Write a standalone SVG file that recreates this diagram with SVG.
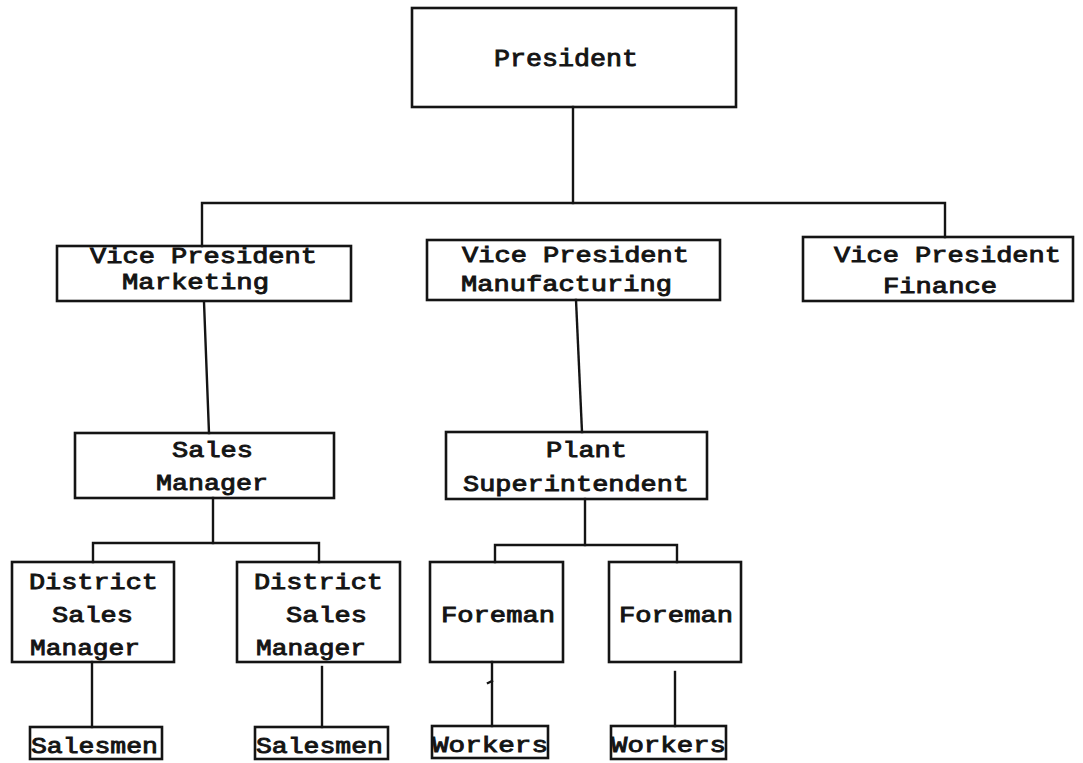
<svg xmlns="http://www.w3.org/2000/svg" width="1083" height="763" viewBox="0 0 1083 763">
  <style>
    .box { fill: none; stroke: #141414; stroke-width: 2.6; stroke-linejoin: miter; }
    .wire { fill: none; stroke: #141414; stroke-width: 2.4; stroke-linecap: square; }
    .lbl { font-family: "Liberation Mono", "DejaVu Sans Mono", monospace; font-size: 22px; fill: #141414; stroke: #141414; stroke-width: 0.9px; }
    .big { font-size: 24px; }
  </style>
  <rect width="1083" height="763" fill="#ffffff"/>

  <!-- reporting lines -->
  <g id="connectors">
    <path class="wire" d="M573,107 L573,203"/>
    <path class="wire" d="M202,246 L202,203 L945,203 L945,237"/>
    <path class="wire" d="M204,302 L209,433"/>
    <path class="wire" d="M576,300 L582,432"/>
    <path class="wire" d="M213,498 L213,543"/>
    <path class="wire" d="M93,562 L93,543 L319,543 L319,562"/>
    <path class="wire" d="M585,499 L585,545"/>
    <path class="wire" d="M495,562 L495,545 L677,545 L677,562"/>
    <path class="wire" d="M92,662 L92,727"/>
    <path class="wire" d="M322,667 L322,727"/>
    <path class="wire" d="M492,662 L492,726"/>
    <path class="wire" d="M488,683 L492,681"/>
    <path class="wire" d="M675,672 L675,726"/>
  </g>

  <g id="president">
    <rect class="box" x="412" y="8" width="324" height="99"/>
    <text class="lbl big" x="494" y="66" textLength="144" lengthAdjust="spacingAndGlyphs">President</text>
  </g>

  <g id="vp-marketing">
    <rect class="box" x="57" y="246" width="294" height="55"/>
    <text class="lbl" x="90" y="263" textLength="227" lengthAdjust="spacingAndGlyphs">Vice President</text>
    <text class="lbl" x="122" y="289" textLength="147" lengthAdjust="spacingAndGlyphs">Marketing</text>
  </g>

  <g id="vp-manufacturing">
    <rect class="box" x="427" y="240" width="293" height="60"/>
    <text class="lbl" x="462" y="262" textLength="227" lengthAdjust="spacingAndGlyphs">Vice President</text>
    <text class="lbl" x="461" y="291" textLength="211" lengthAdjust="spacingAndGlyphs">Manufacturing</text>
  </g>

  <g id="vp-finance">
    <rect class="box" x="803" y="237" width="270" height="64"/>
    <text class="lbl" x="834" y="262" textLength="227" lengthAdjust="spacingAndGlyphs">Vice President</text>
    <text class="lbl" x="883" y="293" textLength="114" lengthAdjust="spacingAndGlyphs">Finance</text>
  </g>

  <g id="sales-manager">
    <rect class="box" x="75" y="433" width="259" height="65"/>
    <text class="lbl" x="172" y="457" textLength="81" lengthAdjust="spacingAndGlyphs">Sales</text>
    <text class="lbl" x="156" y="490" textLength="112" lengthAdjust="spacingAndGlyphs">Manager</text>
  </g>

  <g id="plant-superintendent">
    <rect class="box" x="446" y="432" width="261" height="67"/>
    <text class="lbl" x="546" y="457" textLength="81" lengthAdjust="spacingAndGlyphs">Plant</text>
    <text class="lbl" x="463" y="491" textLength="226" lengthAdjust="spacingAndGlyphs">Superintendent</text>
  </g>

  <g id="district-sales-manager-1">
    <rect class="box" x="12" y="562" width="162" height="100"/>
    <text class="lbl" x="29" y="589" textLength="129" lengthAdjust="spacingAndGlyphs">District</text>
    <text class="lbl" x="52" y="622" textLength="81" lengthAdjust="spacingAndGlyphs">Sales</text>
    <text class="lbl" x="30" y="655" textLength="110" lengthAdjust="spacingAndGlyphs">Manager</text>
  </g>

  <g id="district-sales-manager-2">
    <rect class="box" x="237" y="562" width="163" height="100"/>
    <text class="lbl" x="254" y="589" textLength="129" lengthAdjust="spacingAndGlyphs">District</text>
    <text class="lbl" x="286" y="622" textLength="81" lengthAdjust="spacingAndGlyphs">Sales</text>
    <text class="lbl" x="256" y="655" textLength="110" lengthAdjust="spacingAndGlyphs">Manager</text>
  </g>

  <g id="foreman-1">
    <rect class="box" x="430" y="562" width="133" height="100"/>
    <text class="lbl" x="441" y="622" textLength="114" lengthAdjust="spacingAndGlyphs">Foreman</text>
  </g>

  <g id="foreman-2">
    <rect class="box" x="609" y="562" width="132" height="100"/>
    <text class="lbl" x="619" y="622" textLength="114" lengthAdjust="spacingAndGlyphs">Foreman</text>
  </g>

  <g id="salesmen-1">
    <rect class="box" x="30" y="727" width="132" height="32"/>
    <text class="lbl" x="31" y="753" textLength="127" lengthAdjust="spacingAndGlyphs">Salesmen</text>
  </g>

  <g id="salesmen-2">
    <rect class="box" x="255" y="727" width="133" height="32"/>
    <text class="lbl" x="256" y="753" textLength="127" lengthAdjust="spacingAndGlyphs">Salesmen</text>
  </g>

  <g id="workers-1">
    <rect class="box" x="432" y="726" width="116" height="32"/>
    <text class="lbl" x="432" y="752" textLength="116" lengthAdjust="spacingAndGlyphs">Workers</text>
  </g>

  <g id="workers-2">
    <rect class="box" x="611" y="726" width="115" height="33"/>
    <text class="lbl" x="611" y="752" textLength="115" lengthAdjust="spacingAndGlyphs">Workers</text>
  </g>
</svg>
